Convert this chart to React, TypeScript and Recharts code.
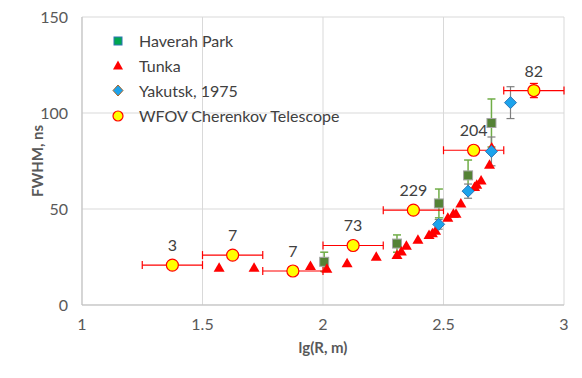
import React from 'react'
import {
  ScatterChart,
  Scatter,
  XAxis,
  YAxis,
  CartesianGrid,
  ErrorBar,
  Label
} from 'recharts'

// WFOV Cherenkov Telescope: bins in lg(R), with event counts
const wfovX = [1.375, 1.625, 1.875, 2.125, 2.375, 2.625, 2.875]
const wfovY = [20.8, 26, 17.7, 31, 49.4, 80.6, 111.7]
const wfovXErr = [0.125, 0.125, 0.125, 0.125, 0.125, 0.125, 0.125]
const wfovYErr = [0, 0, 0, 0, 0, 0, 3.7]
const wfovCounts = [3, 7, 7, 73, 229, 204, 82]

// Haverah Park
const hpX = [2.005, 2.307, 2.481, 2.602, 2.699]
const hpY = [22.5, 32, 52.9, 67.5, 94.8]
const hpErr = [5, 4.5, 7.5, 8, 12.5]

// Yakutsk, 1975
const yakX = [2.48, 2.602, 2.699, 2.778]
const yakY = [42, 59.3, 80, 105.4]
const yakErr = [2.5, 3.7, 7.5, 8.3]

// Tunka
const tunkaX = [1.569, 1.714, 1.948, 2.016, 2.1, 2.221, 2.307, 2.325, 2.346, 2.394, 2.44,
  2.454, 2.467, 2.518, 2.541, 2.552, 2.572, 2.629, 2.638, 2.656, 2.691, 2.7]
const tunkaY = [19.4, 19.4, 20.3, 18.9, 21.7, 25.1, 26, 27.8, 30.9, 34, 36.4,
  37.4, 38.7, 45.5, 47.5, 47.5, 52.9, 61.5, 62.6, 64.8, 73.1, 82]

const xTicks = [1, 1.5, 2, 2.5, 3]
const yTicks = [0, 50, 100, 150]

const FONT = 'Lato, "Open Sans", sans-serif'
const TEXT = '#595959'

const wfovData = wfovX.map((x, i) => ({ x, y: wfovY[i], ex: wfovXErr[i], ey: wfovYErr[i], n: wfovCounts[i] }))
const hpData = hpX.map((x, i) => ({ x, y: hpY[i], ey: hpErr[i] }))
const yakData = yakX.map((x, i) => ({ x, y: yakY[i], ey: yakErr[i] }))
const tunkaData = tunkaX.map((x, i) => ({ x, y: tunkaY[i] }))

const Triangle = ({ cx, cy }: any) => (
  <path d={`M${cx},${cy - 5.5} L${cx + 5.5},${cy + 4} L${cx - 5.5},${cy + 4} Z`} fill="#FF0000" />
)

const Square = ({ cx, cy }: any) => (
  <rect x={cx - 4.5} y={cy - 4.5} width={9} height={9} fill="#548235" stroke="#A5A5A5" strokeWidth={1} />
)

const Diamond = ({ cx, cy }: any) => (
  <path
    d={`M${cx},${cy - 6} L${cx + 6},${cy} L${cx},${cy + 6} L${cx - 6},${cy} Z`}
    fill="#1CA3EC"
    stroke="#2E75B6"
    strokeWidth={1}
  />
)

const Circle = ({ cx, cy, payload }: any) => (
  <g>
    <circle cx={cx} cy={cy} r={6} fill="#FFFF00" stroke="#FF0000" strokeWidth={1.2} />
    <text x={cx} y={cy - 14} textAnchor="middle" fontSize={16} fill="#404040" fontFamily={FONT}>
      {payload.n}
    </text>
  </g>
)

const legendItems = [
  { name: 'Haverah Park', icon: 'square' },
  { name: 'Tunka', icon: 'triangle' },
  { name: 'Yakutsk, 1975', icon: 'diamond' },
  { name: 'WFOV Cherenkov Telescope', icon: 'circle' }
]

const LegendIcon = ({ kind }: { kind: string }) => {
  if (kind === 'square') return <rect x={2} y={3} width={8} height={8} fill="#00A651" stroke="#2E75B6" strokeWidth={1} />
  if (kind === 'triangle') return <path d="M6,1.5 L11,10.5 L1,10.5 Z" fill="#FF0000" />
  if (kind === 'diamond') return <path d="M6,1 L11,6.5 L6,12 L1,6.5 Z" fill="#1CA3EC" stroke="#A5662D" strokeWidth={1} />
  return <circle cx={6} cy={7} r={5} fill="#FFFF00" stroke="#FF0000" strokeWidth={1.2} />
}

// legend drawn as an overlay so it does not shrink the plot area
const ChartLegend = () => (
  <div style={{ position: 'absolute', left: 112, top: 28, fontFamily: FONT, fontSize: 16, color: '#404040' }}>
    {legendItems.map(item => (
      <div key={item.name} style={{ display: 'flex', alignItems: 'center', height: 25 }}>
        <svg width={12} height={14} style={{ marginRight: 15 }}>
          <LegendIcon kind={item.icon} />
        </svg>
        <span>{item.name}</span>
      </div>
    ))}
  </div>
)

export default function App() {
  return (
    <div style={{ position: 'absolute', left: 0, top: 0, width: 582, height: 378, background: '#fff' }}>
      <ScatterChart width={582} height={378} margin={{ top: 17, right: 18, left: 0, bottom: 0 }}>
        <CartesianGrid stroke="#D9D9D9" strokeWidth={1} />
        <XAxis
          type="number"
          dataKey="x"
          domain={[1, 3]}
          ticks={xTicks}
          interval={0}
          height={73}
          axisLine={{ stroke: '#BFBFBF' }}
          tickLine={false}
          tickMargin={8}
          tick={{ fill: TEXT, fontSize: 16, fontFamily: FONT }}
        >
          <Label
            value="lg(R, m)"
            position="insideBottom"
            offset={25}
            style={{ fill: TEXT, fontSize: 15, fontWeight: 'bold', fontFamily: FONT }}
          />
        </XAxis>
        <YAxis
          type="number"
          dataKey="y"
          domain={[0, 150]}
          ticks={yTicks}
          interval={0}
          width={82}
          axisLine={{ stroke: '#BFBFBF' }}
          tickLine={false}
          tickMargin={8}
          tick={{ fill: TEXT, fontSize: 16, fontFamily: FONT }}
        >
          <Label
            value="FWHM, ns"
            angle={-90}
            position="insideLeft"
            offset={38}
            style={{ fill: TEXT, fontSize: 15, fontWeight: 'bold', fontFamily: FONT, textAnchor: 'middle' }}
          />
        </YAxis>
        <Scatter name="Haverah Park" data={hpData} shape={Square} isAnimationActive={false}>
          <ErrorBar dataKey="ey" direction="y" width={4} stroke="#70AD47" strokeWidth={1.5} />
        </Scatter>
        <Scatter name="Tunka" data={tunkaData} shape={Triangle} isAnimationActive={false} />
        <Scatter name="Yakutsk, 1975" data={yakData} shape={Diamond} isAnimationActive={false}>
          <ErrorBar dataKey="ey" direction="y" width={4} stroke="#7F7F7F" strokeWidth={1.2} />
        </Scatter>
        <Scatter name="WFOV Cherenkov Telescope" data={wfovData} shape={Circle} isAnimationActive={false}>
          <ErrorBar dataKey="ex" direction="x" width={4} stroke="#FF0000" strokeWidth={1.2} />
          <ErrorBar dataKey="ey" direction="y" width={4} stroke="#FF0000" strokeWidth={1.2} />
        </Scatter>
      </ScatterChart>
      <ChartLegend />
    </div>
  )
}
